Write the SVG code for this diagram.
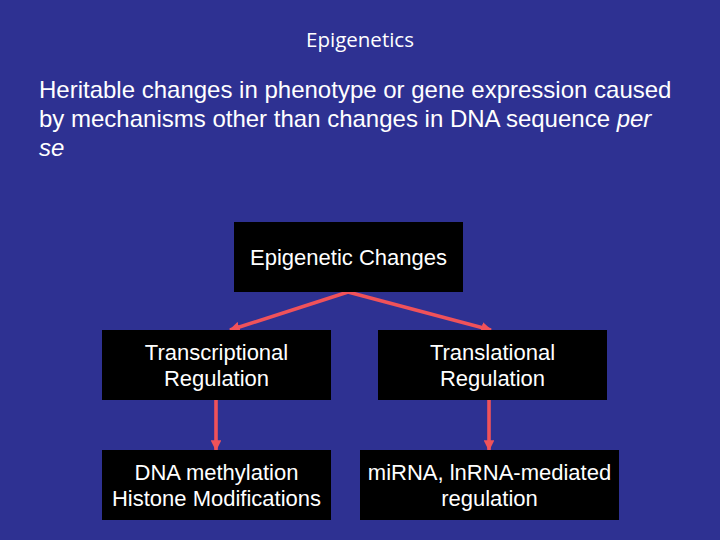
<svg xmlns="http://www.w3.org/2000/svg" width="720" height="540" viewBox="0 0 720 540">
<defs>
<marker id="ah" viewBox="0 0 10 10" refX="9" refY="5" markerWidth="3" markerHeight="3" orient="auto" markerUnits="strokeWidth">
<path d="M0,0 L10,5 L0,10 z" fill="#F0525A"/>
</marker>
<style>
.box{fill:#000000;}
.lbl{font-family:"Liberation Sans",Arial,sans-serif;font-size:22px;fill:#FFFFFF;text-anchor:middle;}
.body{font-family:"Liberation Sans",Arial,sans-serif;font-size:24px;fill:#FFFFFF;}
.conn{stroke:#F0525A;stroke-width:3.6;fill:none;marker-end:url(#ah);}
</style>
</defs>
<rect x="0" y="0" width="720" height="540" fill="#2E3192"/>
<text x="360" y="47" font-family="'Open Sans','Noto Sans',sans-serif" font-size="20.5" fill="#FFFFFF" text-anchor="middle">Epigenetics</text>
<text class="body" x="39" y="98">Heritable changes in phenotype or gene expression caused</text>
<text class="body" x="39" y="127">by mechanisms other than changes in DNA sequence <tspan font-style="italic">per</tspan></text>
<text class="body" x="39" y="156" font-style="italic">se</text>
<g id="connectors">
<line class="conn" x1="348" y1="292" x2="230" y2="330"/>
<line class="conn" x1="348" y1="292" x2="491" y2="330"/>
<line class="conn" x1="216" y1="400" x2="216" y2="450"/>
<line class="conn" x1="489" y1="400" x2="489" y2="450"/>
</g>
<g id="epigenetic-changes">
<rect class="box" x="234" y="222" width="229" height="70"/>
<text class="lbl" x="348.5" y="265">Epigenetic Changes</text>
</g>
<g id="transcriptional">
<rect class="box" x="102" y="330" width="229" height="70"/>
<text class="lbl" x="216.5" y="360">Transcriptional</text>
<text class="lbl" x="216.5" y="386">Regulation</text>
</g>
<g id="translational">
<rect class="box" x="378" y="330" width="229" height="70"/>
<text class="lbl" x="492.5" y="360">Translational</text>
<text class="lbl" x="492.5" y="386">Regulation</text>
</g>
<g id="dna-methylation">
<rect class="box" x="102" y="450" width="229" height="70"/>
<text class="lbl" x="216.5" y="480">DNA methylation</text>
<text class="lbl" x="216.5" y="506">Histone Modifications</text>
</g>
<g id="mirna">
<rect class="box" x="360" y="450" width="259" height="70"/>
<text class="lbl" x="489.5" y="480">miRNA, lnRNA-mediated</text>
<text class="lbl" x="489.5" y="506">regulation</text>
</g>
</svg>
